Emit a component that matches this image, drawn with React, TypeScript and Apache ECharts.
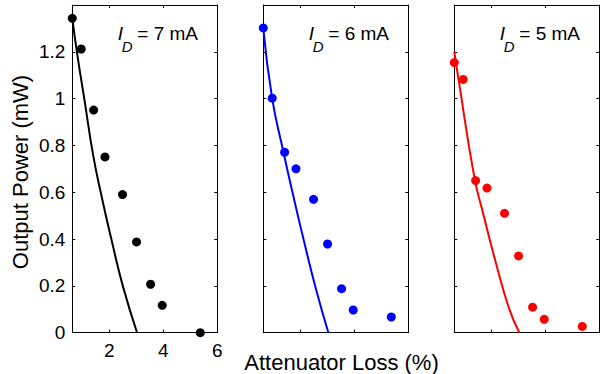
import React, { useEffect, useRef } from "react";
import * as echarts from "echarts";

// Measured attenuator loss (%) values (shared by all panels)
const lossValues = [0.63, 0.96, 1.42, 1.84, 2.49, 3.01, 3.53, 3.96, 5.37];
// Measured output power (mW)
const power7mA = [1.343, 1.212, 0.951, 0.751, 0.59, 0.388, 0.207, 0.117, 0.0];
const power6mA = [1.302, 1.002, 0.771, 0.7, 0.57, 0.379, 0.188, 0.097, 0.067];
const power5mA = [1.154, 1.082, 0.65, 0.618, 0.51, 0.328, 0.109, 0.057, 0.027];

// Theory curves (loss, power)
const fit7mAX = [0.63, 0.8, 1.1, 1.4, 1.72, 2.1, 2.5, 3.03];
const fit7mAY = [1.343, 1.2, 0.98, 0.76, 0.58, 0.388, 0.2, 0.0];
const fit6mAX = [0.63, 0.96, 1.38, 1.74, 2.14, 2.55, 3.04];
const fit6mAY = [1.3, 1.0, 0.77, 0.585, 0.39, 0.2, 0.0];
const fit5mAX = [0.63, 0.79, 1.38, 1.72, 2.12, 2.64, 3.04];
const fit5mAY = [1.2, 1.08, 0.66, 0.5, 0.32, 0.11, 0.0];

const panelCurrents = ["7", "6", "5"];
const panelColors = ["#000000", "#0000ff", "#ff0000"];
const xTicks = [2, 4, 6];

const FONT = '"Liberation Sans", Arial, Helvetica, sans-serif';

export default function App() {
  const ref = useRef<HTMLDivElement>(null);
  useEffect(() => {
    if (!ref.current) return;
    const chart = echarts.init(ref.current, undefined, { renderer: "svg" });

    const measured = [power7mA, power6mA, power5mA];
    const fitsX = [fit7mAX, fit6mAX, fit5mAX];
    const fitsY = [fit7mAY, fit6mAY, fit5mAY];

    const gridLefts = [72.3, 263.3, 454.3];
    const gridW = 145;
    const gridTop = 5;
    const gridH = 327.7;

    const grids = gridLefts.map((l) => ({
      left: l,
      top: gridTop,
      width: gridW,
      height: gridH,
      containLabel: false,
    }));

    const xAxes: any[] = [];
    const yAxes: any[] = [];
    gridLefts.forEach((_, i) => {
      ["bottom", "top"].forEach((pos) => {
        xAxes.push({
          type: "value",
          gridIndex: i,
          position: pos,
          min: 0.63,
          max: 6,
          axisLine: { show: true, onZero: false, lineStyle: { color: "#000", width: 1 } },
          axisTick: {
            show: true,
            inside: true,
            length: 3,
            customValues: xTicks,
            lineStyle: { color: "#000", width: 1 },
          },
          axisLabel: {
            show: i === 0 && pos === "bottom",
            customValues: xTicks,
            color: "#000",
            fontSize: 19,
            fontFamily: FONT,
            margin: 8,
          },
          splitLine: { show: false },
        });
      });
      ["left", "right"].forEach((pos) => {
        yAxes.push({
          type: "value",
          gridIndex: i,
          position: pos,
          min: 0,
          max: 1.4,
          interval: 0.2,
          axisLine: { show: true, onZero: false, lineStyle: { color: "#000", width: 1 } },
          axisTick: { show: true, inside: true, length: 3, lineStyle: { color: "#000", width: 1 } },
          axisLabel: {
            show: i === 0 && pos === "left",
            color: "#000",
            fontSize: 19,
            fontFamily: FONT,
            margin: 7,
            formatter: (v: number) => (v > 1.3 ? "" : String(Math.round(v * 10) / 10)),
          },
          splitLine: { show: false },
        });
      });
    });

    const series: any[] = [];
    gridLefts.forEach((_, i) => {
      series.push({
        type: "line",
        xAxisIndex: i * 2,
        yAxisIndex: i * 2,
        data: fitsX[i].map((x, k) => [x, fitsY[i][k]]),
        symbol: "none",
        smooth: 0.5,
        lineStyle: { color: panelColors[i], width: 2 },
        z: 2,
      });
      series.push({
        type: "scatter",
        xAxisIndex: i * 2,
        yAxisIndex: i * 2,
        data: lossValues.map((x, k) => [x, measured[i][k]]),
        symbol: "circle",
        symbolSize: 9,
        clip: false,
        itemStyle: { color: panelColors[i], opacity: 1 },
        z: 3,
      });
    });

    const graphics: any[] = [];
    gridLefts.forEach((l, i) => {
      graphics.push({
        type: "text",
        x: l + 45.5,
        y: 33.5,
        style: {
          text: "I",
          font: `italic 19px ${FONT}`,
          fill: "#000",
          align: "left",
          verticalAlign: "middle",
        },
      });
      graphics.push({
        type: "text",
        x: l + 49.5,
        y: 46,
        style: {
          text: "D",
          font: `italic 15px ${FONT}`,
          fill: "#000",
          align: "left",
          verticalAlign: "middle",
        },
      });
      graphics.push({
        type: "text",
        x: l + 65,
        y: 33.5,
        style: {
          text: `= ${panelCurrents[i]} mA`,
          font: `19px ${FONT}`,
          fill: "#000",
          align: "left",
          verticalAlign: "middle",
        },
      });
    });
    graphics.push({
      type: "text",
      x: 20,
      y: 172,
      rotation: Math.PI / 2,
      style: {
        text: "Output Power (mW)",
        font: `22px ${FONT}`,
        fill: "#000",
        align: "center",
        verticalAlign: "middle",
      },
    });
    graphics.push({
      type: "text",
      x: 341.5,
      y: 362.5,
      style: {
        text: "Attenuator Loss (%)",
        font: `22px ${FONT}`,
        fill: "#000",
        align: "center",
        verticalAlign: "middle",
      },
    });

    chart.setOption({
      animation: false,
      backgroundColor: "#ffffff",
      grid: grids,
      xAxis: xAxes,
      yAxis: yAxes,
      series,
      graphic: graphics,
    });
    return () => chart.dispose();
  }, []);
  return (
    <div
      ref={ref}
      style={{ position: "absolute", left: 0, top: 0, width: 600, height: 374 }}
    />
  );
}
